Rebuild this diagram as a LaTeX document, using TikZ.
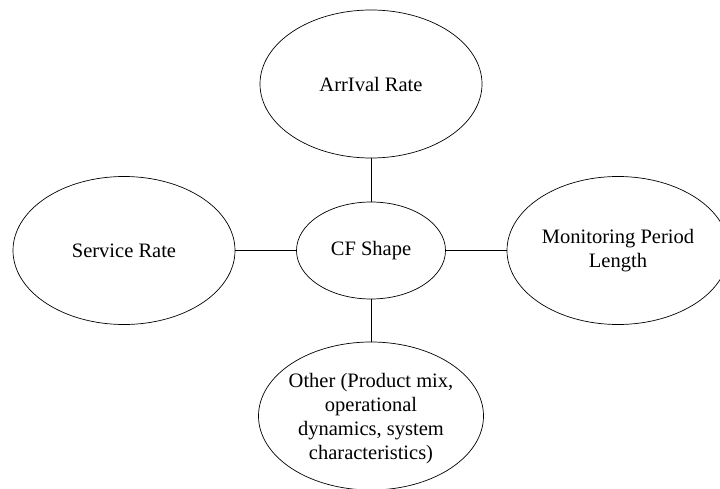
\documentclass[tikz,border=0pt]{standalone}
\usepackage{fontspec}
\setmainfont{Liberation Serif}
\usetikzlibrary{shapes.geometric}
\begin{document}
\begin{tikzpicture}[x=1pt,y=-1pt,
  bubble/.style={draw, ellipse, line width=0.7pt, inner sep=0pt,
    minimum width=222pt, minimum height=148pt},
  core/.style={draw, ellipse, line width=0.7pt, inner sep=0pt,
    minimum width=149pt, minimum height=97pt},
  txt/.style={align=center, font=\fontsize{20.5}{24}\selectfont},
  link/.style={line width=0.7pt}]
  \useasboundingbox (0,0) rectangle (720,489);
  % central factor
  \node[core, label={[txt]center:CF Shape}] (cf) at (371,250.5) {};
  % surrounding factors
  \node[bubble, label={[txt]center:ArrIval Rate}] (arr) at (371,84) {};
  \node[bubble, label={[txt]center:Service Rate}] (srv) at (124,250.5) {};
  \node[bubble, label={[txt]center:Monitoring Period\\Length}] (mon) at (618,250.5) {};
  \node[bubble, minimum width=225pt, label={[txt, yshift=-3pt]center:Other (Product mix,\\operational\\dynamics, system\\characteristics)}] (oth) at (371,416) {};
  % connectors
  \draw[link] (cf.north) -- (arr.south);
  \draw[link] (cf.west) -- (srv.east);
  \draw[link] (cf.east) -- (mon.west);
  \draw[link] (cf.south) -- (oth.north);
\end{tikzpicture}
\end{document}
